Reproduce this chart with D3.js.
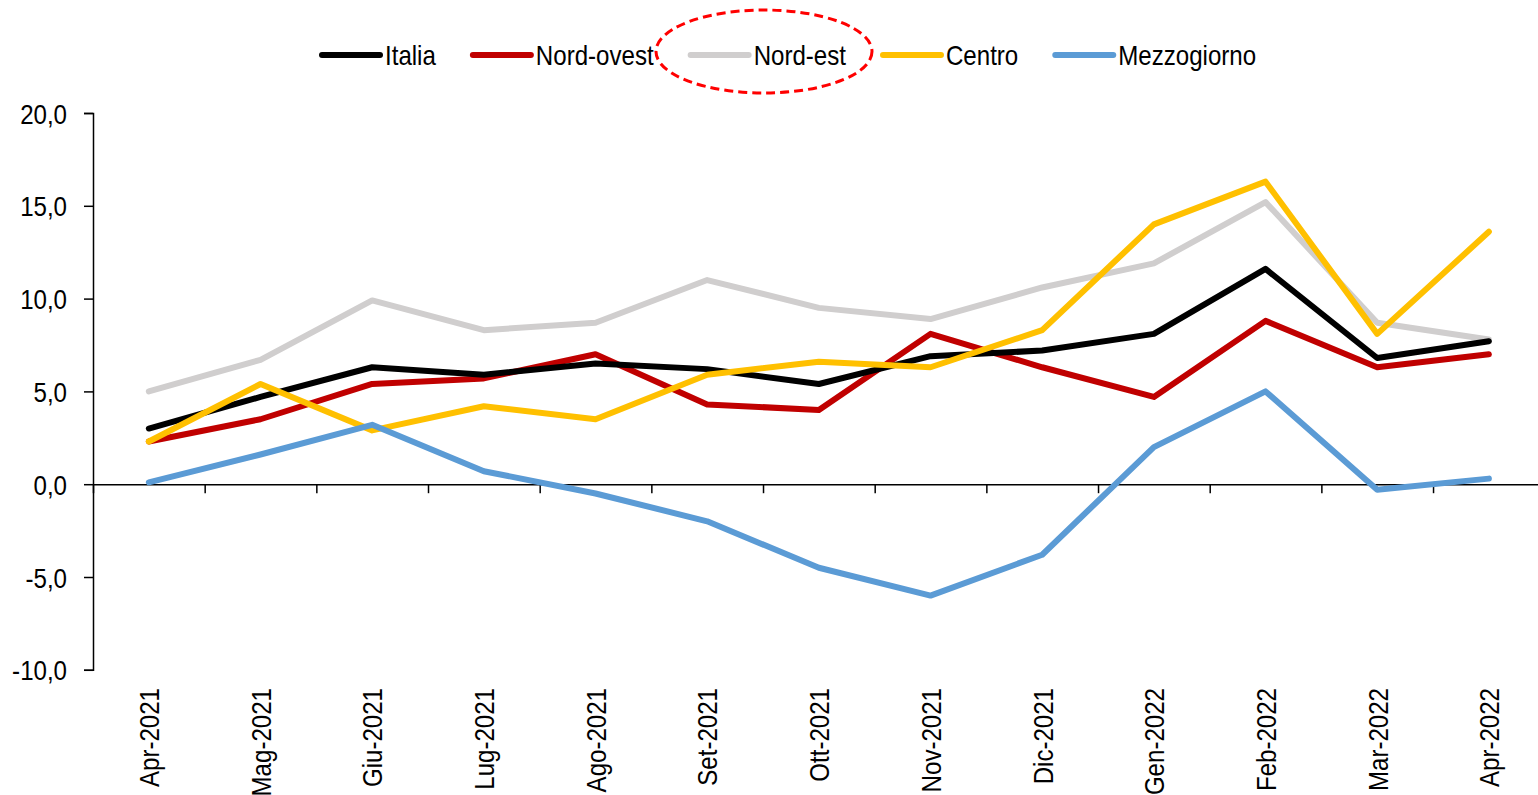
<!DOCTYPE html>
<html>
<head>
<meta charset="utf-8">
<script src="https://cdn.jsdelivr.net/npm/d3@7"></script>
<style>
  body { margin: 0; background: #fff; }
  text { font-family: "Liberation Sans", Arial, sans-serif; fill: #000; }
</style>
</head>
<body>
<svg id="chart" width="1538" height="795"></svg>
<script>
const months = ["Apr-2021", "Mag-2021", "Giu-2021", "Lug-2021", "Ago-2021", "Set-2021", "Ott-2021",
  "Nov-2021", "Dic-2021", "Gen-2022", "Feb-2022", "Mar-2022", "Apr-2022"];

const italia      = [3.0, 4.7, 6.3, 5.9, 6.5, 6.2, 5.4, 6.9, 7.2, 8.1, 11.6, 6.8, 7.7];
const nordOvest   = [2.3, 3.5, 5.4, 5.7, 7.0, 4.3, 4.0, 8.1, 6.3, 4.7, 8.8, 6.3, 7.0];
const nordEst     = [5.0, 6.7, 9.9, 8.3, 8.7, 11.0, 9.5, 8.9, 10.6, 11.9, 15.2, 8.7, 7.8];
const centro      = [2.3, 5.4, 2.9, 4.2, 3.5, 5.9, 6.6, 6.3, 8.3, 14.0, 16.3, 8.1, 13.6];
const mezzogiorno = [0.1, 1.6, 3.2, 0.7, -0.5, -2.0, -4.5, -6.0, -3.8, 2.0, 5.0, -0.3, 0.3];

const yTicks = [-10, -5, 0, 5, 10, 15, 20];

const series = [
  { name: "Italia", values: italia, color: "#000000" },
  { name: "Nord-ovest", values: nordOvest, color: "#c00000" },
  { name: "Nord-est", values: nordEst, color: "#d0cece" },
  { name: "Centro", values: centro, color: "#ffc000" },
  { name: "Mezzogiorno", values: mezzogiorno, color: "#5b9bd5" }
];
// drawing order (last on top)
const drawOrder = ["Nord-est", "Nord-ovest", "Italia", "Centro", "Mezzogiorno"];

const svg = d3.select("#chart");
const left = 93, step = 111.67;
const right = left + step * months.length;

const x = d3.scalePoint().domain(months).range([left, right]).padding(0.5);
const xb = d3.scaleLinear().domain([0, months.length]).range([left, right]);
const y = d3.scaleLinear().domain([-10, 20]).range([669.8, 113]);

const fmt = d => d3.format(".1f")(d).replace(".", ",").replace("\u2212", "-");

// the original font is a narrow sans, squeeze glyphs a bit
const squeeze = 0.86;
const narrow = sel => sel.each(function() {
  const w = this.getComputedTextLength();
  d3.select(this).attr("textLength", w * squeeze).attr("lengthAdjust", "spacingAndGlyphs");
});

// y axis
const yAxis = svg.append("g")
  .attr("transform", `translate(${left},0)`)
  .call(d3.axisLeft(y).tickValues(yTicks).tickSize(9).tickPadding(17).tickFormat(fmt));
yAxis.select(".domain").attr("stroke", "#000").attr("stroke-width", 1.5);
yAxis.selectAll(".tick line").attr("stroke", "#000").attr("stroke-width", 1.5);
yAxis.selectAll("text").style("font-size", "28px").attr("dy", "0.36em").call(narrow);

// x axis at zero with boundary ticks
const xAxis = svg.append("g")
  .attr("transform", `translate(0,${y(0)})`)
  .call(d3.axisBottom(xb).tickValues(d3.range(0, months.length + 1)).tickSize(9).tickSizeOuter(0).tickFormat(""));
xAxis.select(".domain").attr("stroke", "#000").attr("stroke-width", 1.5);
xAxis.selectAll(".tick line").attr("stroke", "#000").attr("stroke-width", 1.5);

// month labels at bottom
const xLab = svg.append("g")
  .attr("transform", "translate(0,688)")
  .call(d3.axisBottom(x).tickSize(0).tickPadding(0));
xLab.select(".domain").remove();
xLab.selectAll("text")
  .style("font-size", "28px")
  .attr("text-anchor", "end")
  .attr("transform", "rotate(-90)")
  .attr("x", 0)
  .attr("y", 0)
  .attr("dx", 0)
  .attr("dy", "0.35em")
  .call(narrow);

// lines
const line = d3.line()
  .x((d, i) => x(months[i]))
  .y(d => y(d));

svg.append("g")
  .selectAll("path")
  .data(drawOrder.map(n => series.find(s => s.name === n)))
  .join("path")
    .attr("d", d => line(d.values))
    .attr("fill", "none")
    .attr("stroke", d => d.color)
    .attr("stroke-width", 6)
    .attr("stroke-linejoin", "round")
    .attr("stroke-linecap", "round");

// legend
const legend = svg.append("g").attr("transform", "translate(322,55)");
let lx = 0;
series.forEach(s => {
  const g = legend.append("g").attr("transform", `translate(${lx},0)`);
  g.append("line")
    .attr("x1", 0).attr("x2", 58)
    .attr("stroke", s.color).attr("stroke-width", 6).attr("stroke-linecap", "round");
  const t = g.append("text")
    .attr("x", 63).attr("dy", "0.36em")
    .style("font-size", "28px")
    .text(s.name)
    .call(narrow);
  lx += 63 + (+t.attr("textLength")) + 37;
});

// highlight ellipse round Nord-est
svg.append("ellipse")
  .attr("cx", 764).attr("cy", 51.5)
  .attr("rx", 108).attr("ry", 41.5)
  .attr("fill", "none")
  .attr("stroke", "#ff0000")
  .attr("stroke-width", 3)
  .attr("stroke-dasharray", "9,5");
</script>
</body>
</html>
